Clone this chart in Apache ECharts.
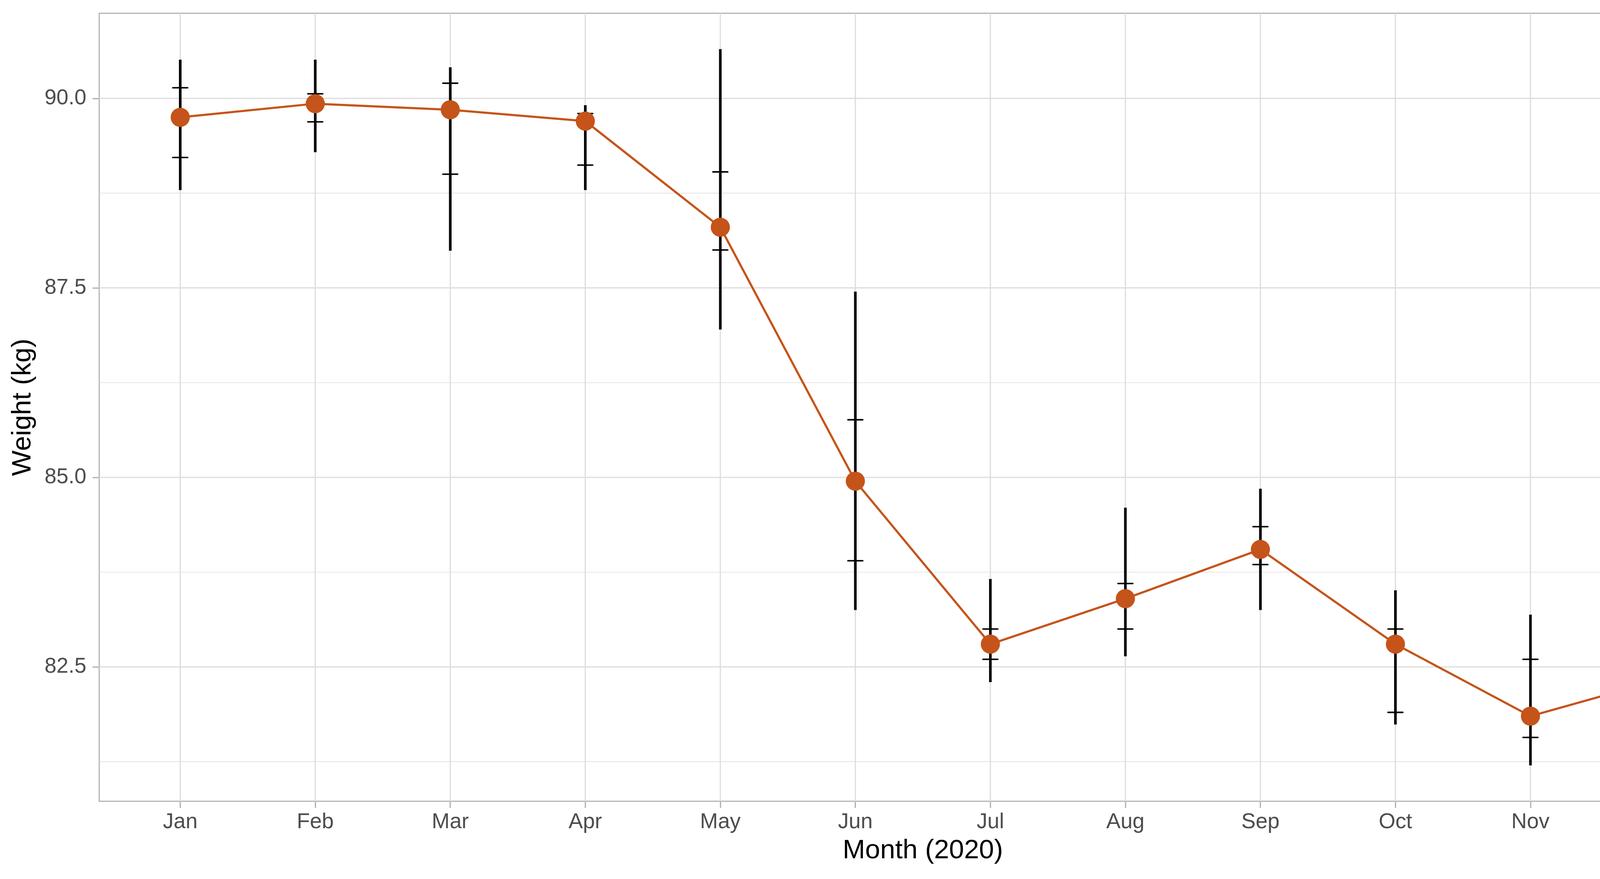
<!DOCTYPE html>
<html>
<head>
<meta charset="utf-8">
<script src="https://cdn.jsdelivr.net/npm/echarts@6/dist/echarts.min.js"></script>
<style>
html,body{margin:0;padding:0;background:#fff;}
#chart{width:4500px;height:2250px;}
</style>
</head>
<body>
<div id="chart"></div>
<script>
// ---- data ----
const months = ['Jan','Feb','Mar','Apr','May','Jun','Jul','Aug','Sep','Oct','Nov','Dec'];
const meanWeight = [89.75, 89.93, 89.85, 89.70, 88.30, 84.95, 82.80, 83.40, 84.05, 82.80, 81.85, 82.35];
const rangeLow   = [88.79, 89.29, 87.99, 88.79, 86.95, 83.25, 82.30, 82.64, 83.25, 81.74, 81.20, 82.18];
const rangeHigh  = [90.51, 90.51, 90.41, 89.91, 90.65, 87.45, 83.66, 84.60, 84.85, 83.51, 83.19, 82.99];
const barLow     = [89.22, 89.69, 89.00, 89.12, 88.00, 83.90, 82.60, 83.00, 83.85, 81.90, 81.57, 82.25];
const barHigh    = [90.14, 90.06, 90.20, 89.80, 89.03, 85.76, 83.00, 83.60, 84.35, 83.00, 82.60, 82.67];
const yTicks = [82.5, 85.0, 87.5, 90.0];
const yMinor = [81.25, 83.75, 86.25, 88.75];
const xTicks = months.map((m, i) => i + 1);

// axis limits (ggplot default expansion)
const yMin = 80.7275, yMax = 91.1225;
const xMin = 0.4, xMax = 12.6;

const FONT = '"Liberation Sans", Arial, Helvetica, sans-serif';
const GRID_COL = '#dedede';
const ORANGE = '#c5541a';

const chart = echarts.init(document.getElementById('chart'), null, {renderer: 'canvas'});

function hLineItem(width) {
  return function (params, api) {
    const cs = params.coordSys;
    const p = api.coord([xMin, api.value(0)]);
    return {type: 'line', shape: {x1: cs.x, y1: p[1], x2: cs.x + cs.width, y2: p[1]},
            style: {stroke: GRID_COL, lineWidth: width}, silent: true};
  };
}
function vLineItem(width) {
  return function (params, api) {
    const cs = params.coordSys;
    const p = api.coord([api.value(0), yMin]);
    return {type: 'line', shape: {x1: p[0], y1: cs.y, x2: p[0], y2: cs.y + cs.height},
            style: {stroke: GRID_COL, lineWidth: width}, silent: true};
  };
}

const option = {
  backgroundColor: '#ffffff',
  animation: false,
  grid: {left: 254, right: 29, top: 34, bottom: 199, show: true,
         borderColor: '#b3b3b3', borderWidth: 3, backgroundColor: 'transparent', containLabel: false},
  xAxis: {
    type: 'value', min: xMin, max: xMax,
    name: 'Month (2020)', nameLocation: 'middle', nameGap: 92,
    nameTextStyle: {fontFamily: FONT, fontSize: 69, color: '#000000'},
    axisLine: {show: false},
    axisTick: {show: true, length: 17, lineStyle: {color: '#b3b3b3', width: 3.3}, customValues: xTicks},
    axisLabel: {show: true, fontFamily: FONT, fontSize: 55, color: '#4d4d4d', margin: 26,
                customValues: xTicks, formatter: v => months[Math.round(v) - 1] || ''},
    splitLine: {show: false}
  },
  yAxis: {
    type: 'value', min: yMin, max: yMax,
    name: 'Weight (kg)', nameLocation: 'middle', nameGap: 161, nameRotate: 90,
    nameTextStyle: {fontFamily: FONT, fontSize: 69, color: '#000000'},
    axisLine: {show: false},
    axisTick: {show: true, length: 17, lineStyle: {color: '#b3b3b3', width: 3.3}, customValues: yTicks},
    axisLabel: {show: true, fontFamily: FONT, fontSize: 55, color: '#4d4d4d', margin: 33,
                customValues: yTicks, formatter: v => v.toFixed(1)},
    splitLine: {show: false}
  },
  series: [
    {type: 'custom', name: 'minorY', renderItem: hLineItem(1.6), data: yMinor.map(v => [v]), z: 1, silent: true},
    {type: 'custom', name: 'majorY', renderItem: hLineItem(3.2), data: yTicks.map(v => [v]), z: 1, silent: true},
    {type: 'custom', name: 'majorX', renderItem: vLineItem(3.2), data: xTicks.map(v => [v]), z: 1, silent: true},
    {
      type: 'custom', name: 'errorbars', z: 3, silent: true,
      data: months.map((m, i) => [i + 1, rangeLow[i], rangeHigh[i], barLow[i], barHigh[i]]),
      renderItem: function (params, api) {
        const x = api.value(0);
        const a = api.coord([x, api.value(1)]);
        const b = api.coord([x, api.value(2)]);
        const t1 = api.coord([x, api.value(3)]);
        const t2 = api.coord([x, api.value(4)]);
        const hw = 19;
        return {type: 'group', children: [
          {type: 'line', shape: {x1: a[0], y1: a[1], x2: b[0], y2: b[1]}, style: {stroke: '#000', lineWidth: 6.7, lineCap: 'butt'}},
          {type: 'line', shape: {x1: t1[0] - hw, y1: t1[1], x2: t1[0] + hw, y2: t1[1]}, style: {stroke: '#000', lineWidth: 3.8, lineCap: 'round'}},
          {type: 'line', shape: {x1: t2[0] - hw, y1: t2[1], x2: t2[0] + hw, y2: t2[1]}, style: {stroke: '#000', lineWidth: 3.8, lineCap: 'round'}}
        ]};
      }
    },
    {
      type: 'line', name: 'Weight', z: 5,
      data: months.map((m, i) => [i + 1, meanWeight[i]]),
      symbol: 'circle', symbolSize: 49, showAllSymbol: true,
      lineStyle: {color: ORANGE, width: 5.5},
      itemStyle: {color: ORANGE, borderWidth: 0},
      emphasis: {disabled: true}
    }
  ]
};
chart.setOption(option);
</script>
</body>
</html>
